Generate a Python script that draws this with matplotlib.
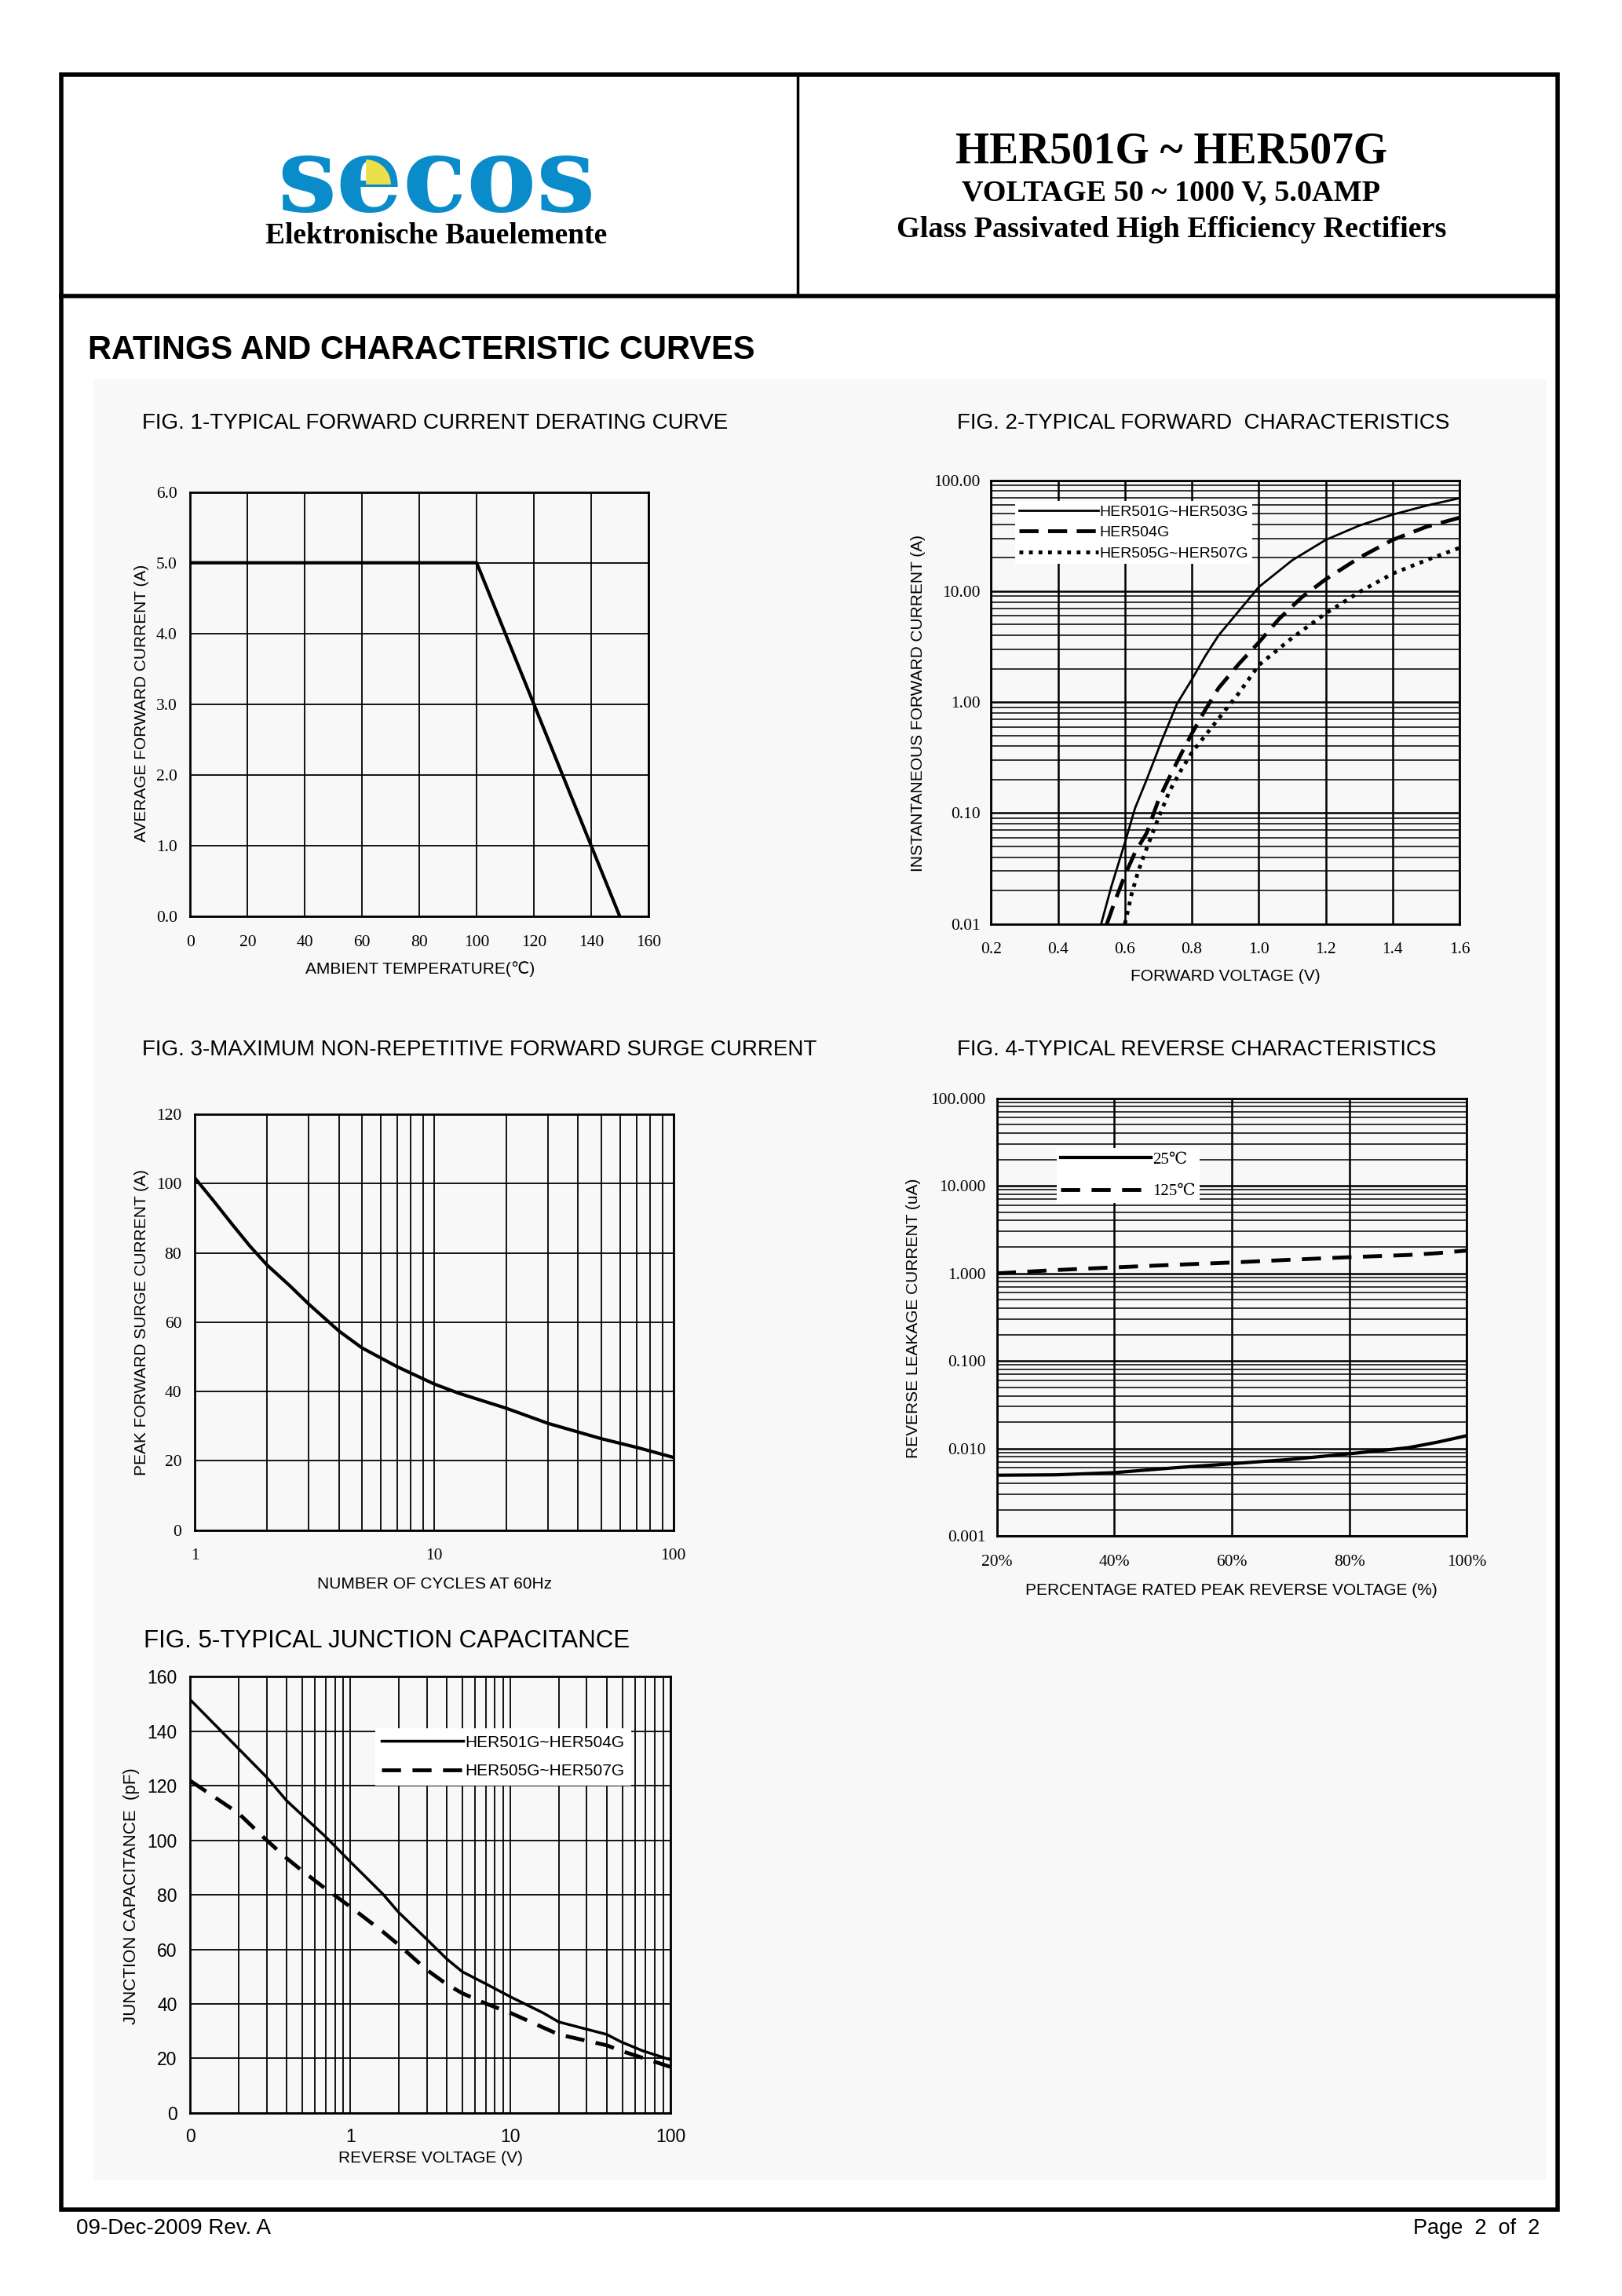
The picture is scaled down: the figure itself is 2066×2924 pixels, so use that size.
import numpy as np
import matplotlib.pyplot as plt
from matplotlib.patches import Rectangle, Wedge
from matplotlib.ticker import NullFormatter

# page layout grid (units of the page, 1108 x 1568)
W, H = 1108, 1568

# fig 1 - derating curve
temp = [0, 100, 150]
i_avg = [5.0, 5.0, 0.0]

# fig 2 - forward characteristics
vf_a = [0.529, 0.56, 0.6, 0.63, 0.665, 0.71, 0.756, 0.8, 0.84, 0.88, 0.94, 1.0, 1.1, 1.2, 1.3, 1.4, 1.5, 1.6]
if_a = [0.01, 0.022, 0.054, 0.11, 0.2, 0.45, 0.97, 1.6, 2.6, 4.0, 6.6, 10.9, 19, 29, 39, 49, 59, 69]
vf_b = [0.546, 0.57, 0.6, 0.63, 0.665, 0.7, 0.733, 0.77, 0.8, 0.84, 0.88, 0.94, 1.0, 1.06, 1.13, 1.2, 1.3, 1.4, 1.5, 1.6]
if_b = [0.01, 0.016, 0.0275, 0.044, 0.066, 0.13, 0.21, 0.35, 0.52, 0.85, 1.34, 2.2, 3.45, 5.6, 8.9, 12.8, 20, 29, 38, 46]
vf_c = [0.6, 0.62, 0.64, 0.665, 0.7, 0.733, 0.77, 0.8, 0.84, 0.88, 0.94, 1.0, 1.1, 1.2, 1.3, 1.4, 1.5, 1.6]
if_c = [0.01, 0.0186, 0.03, 0.048, 0.09, 0.157, 0.25, 0.35, 0.5, 0.71, 1.2, 2.15, 3.8, 6.3, 9.8, 14.4, 19, 24.6]

# fig 3 - surge current
cycles = [1, 1.2, 1.44, 1.7, 2.0, 2.5, 3.0, 4.0, 5.0, 7.0, 10, 12.7, 20, 30, 50, 72, 100]
i_surge = [101.7, 95, 88.1, 82, 76.6, 70.5, 65.2, 57.5, 52.6, 47.2, 42.2, 39.5, 35.2, 30.8, 26.4, 23.7, 21.0]

# fig 4 - reverse characteristics
pct = [20, 30, 40, 50, 60, 70, 80, 90, 95, 100]
ir_25 = [0.00495, 0.005, 0.0053, 0.006, 0.0067, 0.0075, 0.0087, 0.0102, 0.0118, 0.014]
ir_125 = [1.0, 1.09, 1.17, 1.25, 1.33, 1.43, 1.53, 1.62, 1.7, 1.82]

# fig 5 - junction capacitance
vr = [0.1, 0.2, 0.3, 0.4, 0.5, 0.7, 1.0, 1.6, 2.0, 3.0, 4.0, 5.0, 7.1, 10, 16, 20, 30, 40, 49, 67, 100]
cj_a = [151.5, 133.6, 123.1, 114.5, 109.2, 101.3, 92.1, 80.2, 73.6, 63.7, 56.5, 51.8, 47.2, 42.6, 36.7, 33.4, 30.7, 28.8, 26.1, 22.8, 19.5]
vr_b = [0.1, 0.2, 0.3, 0.4, 0.5, 0.7, 1.0, 1.6, 2.0, 3.0, 4.0, 5.0, 7.1, 10, 20, 40, 49, 100]
cj_b = [121.8, 109.9, 100.0, 93.4, 88.8, 82.2, 75.6, 66.4, 61.7, 52.5, 47.2, 43.9, 40.0, 36.7, 28.8, 24.8, 22.8, 16.9]

SANS = ['Liberation Sans', 'DejaVu Sans']
SERIF = ['Liberation Serif', 'DejaVu Serif']

fig = plt.figure(figsize=(20.66, 29.24), dpi=100)

page = fig.add_axes([0, 0, 1, 1], zorder=0)
page.set_xlim(0, W)
page.set_ylim(H, 0)
page.axis('off')

page.add_patch(Rectangle((64, 259), 992, 1230, color='#f8f8f8', lw=0))
page.add_patch(Rectangle((42, 51), 1022, 1458, fill=False, lw=4, ec='k'))
page.plot([42, 1064], [202, 202], color='k', lw=4)
page.plot([545, 545], [51, 202], color='k', lw=2.5)

# logo
page.text(298, 144, 'secos', ha='center', va='baseline', fontsize=96,
          fontweight='bold', family=['DejaVu Serif'], color='#0a8ccb')
page.add_patch(Wedge((250, 126), 17, 270, 360, color='#ece04a', lw=0, zorder=5))
page.text(298, 161, 'Elektronische Bauelemente', ha='center', va='center',
          fontsize=27, fontweight='bold', family=SERIF)

page.text(800, 104, 'HER501G ~ HER507G', ha='center', va='center',
          fontsize=40, fontweight='bold', family=SERIF)
page.text(800, 132, 'VOLTAGE 50 ~ 1000 V, 5.0AMP', ha='center', va='center',
          fontsize=27.5, fontweight='bold', family=SERIF)
page.text(800, 157, 'Glass Passivated High Efficiency Rectifiers', ha='center', va='center',
          fontsize=27.5, fontweight='bold', family=SERIF)

page.text(60, 239, 'RATINGS AND CHARACTERISTIC CURVES', ha='left', va='center',
          fontsize=30, fontweight='bold', family=SANS)

page.text(52, 1522, '09-Dec-2009 Rev. A', ha='left', va='center', fontsize=20, family=SANS)
page.text(1052, 1522, 'Page  2  of  2', ha='right', va='center', fontsize=19.5, family=SANS)


def make_ax(l, t, r, b):
    ax = fig.add_axes([l / W, 1 - b / H, (r - l) / W, (b - t) / H], zorder=2)
    ax.set_facecolor('none')
    for s in ax.spines.values():
        s.set_linewidth(2)
    ax.tick_params(which='both', length=0, labelsize=15.5, labelfontfamily='Liberation Serif')
    return ax


def title(x, y, s, size=20):
    page.text(x, y, s, ha='left', va='center', fontsize=size, family=SANS)


def xlab(x, y, s, size=15):
    page.text(x, y, s, ha='center', va='center', fontsize=size, family=SANS)


def ylab(x, y, s, size=15):
    page.text(x, y, s, ha='center', va='center', fontsize=size, family=SANS, rotation=90)


# ---- FIG 1
ax1 = make_ax(130, 336, 443, 626)
ax1.plot(temp, i_avg, color='k', lw=3)
ax1.set_xlim(0, 160)
ax1.set_ylim(0, 6)
ax1.set_xticks(range(0, 161, 20))
ax1.set_yticks(range(0, 7))
ax1.set_yticklabels(['%.1f' % v for v in range(0, 7)])
ax1.grid(color='k', lw=1.3)
ax1.tick_params(axis='x', pad=17)
ax1.tick_params(axis='y', pad=12)
title(97, 289, 'FIG. 1-TYPICAL FORWARD CURRENT DERATING CURVE')
xlab(287, 662, 'AMBIENT TEMPERATURE(\u2103)')
ylab(97, 480, 'AVERAGE FORWARD CURRENT (A)')

# ---- FIG 2
ax2 = make_ax(677, 328, 997, 631)
ax2.set_yscale('log')
ax2.plot(vf_a, if_a, color='k', lw=2, label='HER501G~HER503G')
ax2.plot(vf_b, if_b, color='k', lw=3.5, ls=(0, (5, 2.5)), label='HER504G')
ax2.plot(vf_c, if_c, color='k', lw=3.5, ls=(0, (1, 1.5)), label='HER505G~HER507G')
ax2.set_xlim(0.2, 1.6)
ax2.set_ylim(0.01, 100)
ax2.set_xticks(np.round(np.arange(0.2, 1.61, 0.2), 1))
ax2.set_xticklabels(['%.1f' % v for v in np.arange(0.2, 1.61, 0.2)])
ax2.set_yticks([0.01, 0.1, 1, 10, 100])
ax2.set_yticklabels(['0.01', '0.10', '1.00', '10.00', '100.00'])
ax2.yaxis.set_minor_formatter(NullFormatter())
ax2.grid(which='major', color='k', lw=1.8)
ax2.grid(which='minor', axis='y', color='k', lw=1.1)
ax2.tick_params(axis='x', pad=17)
ax2.tick_params(axis='y', pad=10)
ax2.legend(loc='upper left', bbox_to_anchor=(0.035, 0.97), frameon=True, fancybox=False,
           edgecolor='none', facecolor='white', framealpha=1,
           handlelength=5.2, borderpad=0.25, labelspacing=0.45, handletextpad=0.1,
           prop={'family': SANS, 'size': 14})
title(654, 289, 'FIG. 2-TYPICAL FORWARD  CHARACTERISTICS')
xlab(837, 667, 'FORWARD VOLTAGE (V)')
ylab(627, 480, 'INSTANTANEOUS FORWARD CURRENT (A)')

# ---- FIG 3
ax3 = make_ax(133, 761, 460, 1045)
ax3.set_xscale('log')
ax3.plot(cycles, i_surge, color='k', lw=3)
ax3.set_xlim(1, 100)
ax3.set_ylim(0, 120)
ax3.set_xticks([1, 10, 100])
ax3.set_xticklabels(['1', '10', '100'])
ax3.xaxis.set_minor_formatter(NullFormatter())
ax3.set_yticks(range(0, 121, 20))
ax3.grid(which='both', color='k', lw=1.3)
ax3.tick_params(axis='x', pad=17)
ax3.tick_params(axis='y', pad=12)
title(97, 717, 'FIG. 3-MAXIMUM NON-REPETITIVE FORWARD SURGE CURRENT')
xlab(297, 1082, 'NUMBER OF CYCLES AT 60Hz')
ylab(97, 903, 'PEAK FORWARD SURGE CURRENT (A)')

# ---- FIG 4
ax4 = make_ax(681, 750, 1002, 1049)
ax4.set_yscale('log')
ax4.plot(pct, ir_25, color='k', lw=3, label='25\u2103')
ax4.plot(pct, ir_125, color='k', lw=3.5, ls=(0, (5, 3)), label='125\u2103')
ax4.set_xlim(20, 100)
ax4.set_ylim(0.001, 100)
ax4.set_xticks([20, 40, 60, 80, 100])
ax4.set_xticklabels(['20%', '40%', '60%', '80%', '100%'])
ax4.set_yticks([0.001, 0.01, 0.1, 1, 10, 100])
ax4.set_yticklabels(['0.001', '0.010', '0.100', '1.000', '10.000', '100.000'])
ax4.yaxis.set_minor_formatter(NullFormatter())
ax4.grid(which='major', color='k', lw=1.8)
ax4.grid(which='minor', axis='y', color='k', lw=1.1)
ax4.tick_params(axis='x', pad=17)
ax4.tick_params(axis='y', pad=10)
ax4.legend(loc='upper left', bbox_to_anchor=(0.11, 0.905), frameon=True, fancybox=False,
           edgecolor='none', facecolor='white', framealpha=1,
           handlelength=5.5, borderpad=0.25, labelspacing=1.0, handletextpad=0.1,
           prop={'family': SERIF, 'size': 15})
title(654, 717, 'FIG. 4-TYPICAL REVERSE CHARACTERISTICS')
xlab(841, 1086, 'PERCENTAGE RATED PEAK REVERSE VOLTAGE (%)')
ylab(624, 900, 'REVERSE LEAKAGE CURRENT (uA)')

# ---- FIG 5
ax5 = make_ax(130, 1145, 458, 1443)
ax5.set_xscale('log')
ax5.plot(vr, cj_a, color='k', lw=2.5, label='HER501G~HER504G')
ax5.plot(vr_b, cj_b, color='k', lw=3.5, ls=(0, (5, 3)), label='HER505G~HER507G')
ax5.set_xlim(0.1, 100)
ax5.set_ylim(0, 160)
ax5.set_xticks([0.1, 1, 10, 100])
ax5.set_xticklabels(['0', '1', '10', '100'])
ax5.xaxis.set_minor_formatter(NullFormatter())
ax5.set_yticks(range(0, 161, 20))
ax5.grid(which='both', color='k', lw=1.3)
ax5.tick_params(which='both', labelsize=16.5, labelfontfamily='Liberation Sans')
ax5.tick_params(axis='x', pad=14)
ax5.tick_params(axis='y', pad=12)
ax5.legend(loc='upper right', bbox_to_anchor=(0.935, 0.9), frameon=True, fancybox=False,
           edgecolor='none', facecolor='white', framealpha=1,
           handlelength=5, borderpad=0.4, labelspacing=0.85, handletextpad=0.1,
           prop={'family': SANS, 'size': 15})
title(98, 1121, 'FIG. 5-TYPICAL JUNCTION CAPACITANCE', size=22.5)
xlab(294, 1474, 'REVERSE VOLTAGE (V)', size=15)
ylab(90, 1295, 'JUNCTION CAPACITANCE  (pF)', size=16)

fig.savefig('out.png', dpi=100)
